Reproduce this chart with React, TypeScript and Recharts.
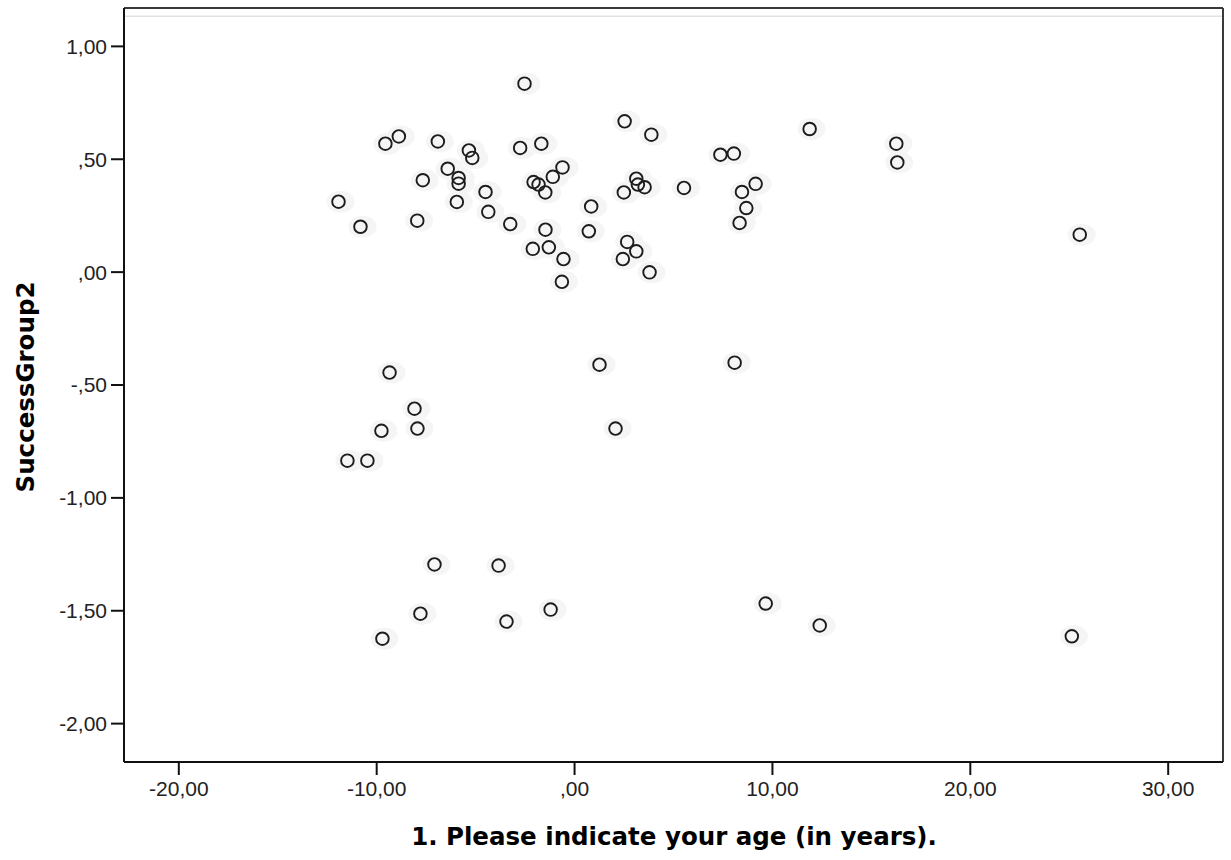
import React from "react";
import {
  ScatterChart,
  Scatter,
  XAxis,
  YAxis,
  ReferenceLine,
} from "recharts";

// centred age (x) against SuccessGroup2 (y)
const ageValues = [
  -2.53, -8.88, -9.56, -6.91, -5.34, -5.17, -2.75, -1.68, 2.53, 3.88,
  11.88, 16.26, 16.31, 7.37, 8.05, -0.61, -6.41, -7.67, -5.86, -5.86,
  -5.95, -4.5, -4.36, -3.25, -7.95, -11.93, -10.82, -2.07, -1.82, -1.48,
  -1.1, -1.47, -2.11, -1.3, -0.56, -0.64, 0.84, 0.72, 2.49, 3.12,
  3.2, 3.54, 2.66, 3.12, 2.44, 3.79, 5.53, 8.46, 9.15, 8.68,
  8.34, 25.53, -9.35, -8.09, -9.76, -7.94, -11.48, -10.47, 1.26, 2.07,
  8.09, -7.08, -3.84, -7.79, -9.71, -3.44, -1.21, 9.66, 12.39, 25.13,
];
const successValues = [
  0.835, 0.601, 0.569, 0.579, 0.539, 0.506, 0.55, 0.569, 0.668, 0.609,
  0.634, 0.569, 0.486, 0.52, 0.525, 0.464, 0.458, 0.407, 0.417, 0.392,
  0.311, 0.355, 0.267, 0.213, 0.228, 0.312, 0.201, 0.399, 0.388, 0.353,
  0.422, 0.188, 0.103, 0.11, 0.058, -0.043, 0.291, 0.181, 0.353, 0.414,
  0.388, 0.376, 0.134, 0.092, 0.058, -0.001, 0.373, 0.355, 0.391, 0.284,
  0.218, 0.166, -0.445, -0.605, -0.703, -0.693, -0.835, -0.835, -0.41, -0.693,
  -0.401, -1.295, -1.3, -1.513, -1.624, -1.548, -1.495, -1.468, -1.565, -1.613,
];
const xTicks = [-20, -10, 0, 10, 20, 30];
const yTicks = [1, 0.5, 0, -0.5, -1, -1.5, -2];

const points = ageValues.map((x, i) => ({ x, y: successValues[i] }));

// SPSS style: comma decimals, no leading zero (",50", "-1,00")
const spss = (v: number) => {
  let s = Math.abs(v).toFixed(2).replace(".", ",");
  if (s.startsWith("0,")) s = s.slice(1);
  return (v < 0 ? "-" : "") + s;
};

const tickStyle = { fontFamily: "'Liberation Sans', Arial, sans-serif", fontSize: 21, fill: "#222" };
const titleFont = "'DejaVu Sans', Verdana, sans-serif";

const Ring = (props: any) => (
  <circle cx={props.cx} cy={props.cy} r={6.3} fill="none" stroke="#1c1c1c" strokeWidth={1.9} />
);
const Halo = (props: any) => (
  <ellipse cx={props.cx + 2} cy={props.cy} rx={14} ry={11} fill="#f5f5f5" />
);

export default function App() {
  return (
    <div style={{ position: "absolute", left: 0, top: 0, width: 1231, height: 860, background: "#fff" }}>
      <ScatterChart width={1231} height={860} margin={{ top: 8, right: 8, bottom: 0, left: 0 }}>
        <XAxis
          type="number"
          dataKey="x"
          domain={[-22.77, 32.77]}
          allowDataOverflow
          ticks={xTicks}
          tickFormatter={spss}
          height={98}
          tickSize={13}
          tickMargin={6}
          tick={tickStyle}
          axisLine={{ stroke: "#111", strokeWidth: 2 }}
          tickLine={{ stroke: "#111", strokeWidth: 2 }}
          label={{
            content: () => (
              <text x={674} y={845} textAnchor="middle" fontFamily={titleFont} fontWeight="bold" fontSize={24.5} fill="#000">
                1. Please indicate your age (in years).
              </text>
            ),
          }}
        />
        <YAxis
          type="number"
          dataKey="y"
          domain={[-2.17, 1.17]}
          allowDataOverflow
          ticks={yTicks}
          tickFormatter={spss}
          width={124}
          tickSize={13}
          tickMargin={4}
          tick={tickStyle}
          axisLine={{ stroke: "#111", strokeWidth: 2 }}
          tickLine={{ stroke: "#111", strokeWidth: 2 }}
          label={{
            content: () => (
              <text
                x={25}
                y={387}
                transform="rotate(-90 25 387)"
                textAnchor="middle"
                dominantBaseline="central"
                fontFamily={titleFont}
                fontWeight="bold"
                fontSize={24.5}
                fill="#000"
              >
                SuccessGroup2
              </text>
            ),
          }}
        />
        <ReferenceLine y={1.134} stroke="#e2e2e2" strokeWidth={1.5} />
        <ReferenceLine y={1.17} stroke="#3a3a3a" strokeWidth={2} />
        <ReferenceLine x={32.77} stroke="#3a3a3a" strokeWidth={2} />
        <Scatter data={points} shape={Halo} isAnimationActive={false} />
        <Scatter data={points} shape={Ring} isAnimationActive={false} />
      </ScatterChart>
    </div>
  );
}
